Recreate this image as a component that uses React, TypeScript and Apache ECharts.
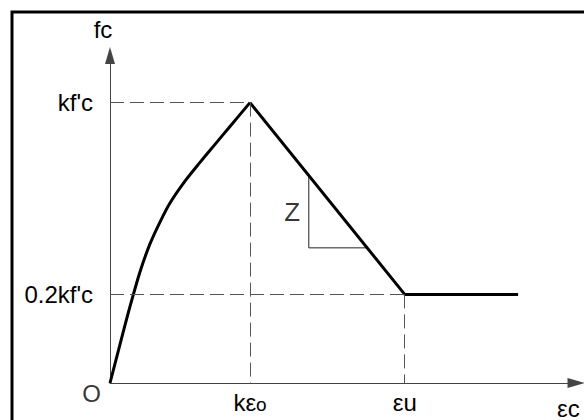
import React, { useEffect, useRef } from "react";
import * as echarts from "echarts";

// Rising branch of the idealised concrete stress–strain curve
// (strain in units where kεo = 2, stress normalised to kf'c = 1).
const risingStrain = [0, 0.143, 0.286, 0.429, 0.571, 0.714, 0.857, 1.071, 1.286, 1.5, 1.714, 2.0];
const risingStress = [0, 0.138, 0.273, 0.397, 0.496, 0.574, 0.642, 0.72, 0.787, 0.851, 0.915, 1.0];

// Linear softening branch and residual plateau.
const fallingStrain = [2.0, 4.21, 5.83];
const fallingStress = [1.0, 0.316, 0.316];

// Slope triangle marked "Z" on the softening branch.
const slopeLegStrain = 2.84;
const slopeLegStress = 0.482;

// Axis ticks and their symbolic labels.
const xTickValues = [2.0, 4.21];
const xTickLabels = ["{m|kε}{s|o}", "εu"];
const yTickValues = [0.316, 1.0];
const yTickLabels = ["0.2kf'c", "kf'c"];

const xMax = 6.657;
const yMax = 1.168;

const FONT = "'Liberation Sans', Arial, Helvetica, sans-serif";

export default function App() {
  const ref = useRef<HTMLDivElement>(null);

  useEffect(() => {
    document.body.style.margin = "0";
    if (!ref.current) return;
    const chart = echarts.init(ref.current, undefined, { renderer: "svg" });

    const peakX = fallingStrain[0];
    const peakY = fallingStress[0];
    const ultX = fallingStrain[1];
    const resY = fallingStress[1];
    const slope = (resY - peakY) / (ultX - peakX);
    const legTopY = peakY + slope * (slopeLegStrain - peakX);
    const legRightX = peakX + (slopeLegStress - peakY) / slope;

    const dash = { type: [14, 6] as number[], color: "#555", width: 1 };
    const text = { color: "#000", fontFamily: FONT, fontSize: 24 };

    chart.setOption({
      animation: false,
      backgroundColor: "#fff",
      textStyle: { fontFamily: FONT },
      graphic: [
        {
          type: "rect",
          shape: { x: 12, y: 12, width: 700, height: 600 },
          style: { fill: "none", stroke: "#000", lineWidth: 3 },
          silent: true,
        },
      ],
      grid: { left: 110, right: 8, top: 55.5, bottom: 35 },
      xAxis: {
        type: "value",
        min: 0,
        max: xMax,
        axisLine: {
          show: true,
          symbol: ["none", "triangle"],
          symbolSize: [10, 17],
          lineStyle: { color: "#444", width: 1 },
        },
        axisTick: { show: false },
        splitLine: { show: false },
        axisLabel: {
          customValues: xTickValues,
          margin: 7,
          ...text,
          formatter: (v: number) => {
            const i = xTickValues.findIndex((t) => Math.abs(t - v) < 1e-6);
            return i >= 0 ? xTickLabels[i] : "";
          },
          rich: {
            m: { ...text },
            s: { ...text, fontSize: 19, padding: [5, 0, 0, 0] },
          },
        },
        name: "εc",
        nameLocation: "end",
        nameGap: -19,
        nameTextStyle: {
          ...text,
          align: "left",
          verticalAlign: "top",
          padding: [13, 0, 0, 0],
        },
      },
      yAxis: {
        type: "value",
        min: 0,
        max: yMax,
        axisLine: {
          show: true,
          symbol: ["none", "triangle"],
          symbolSize: [10, 17],
          lineStyle: { color: "#444", width: 1 },
        },
        axisTick: { show: false },
        splitLine: { show: false },
        axisLabel: {
          customValues: yTickValues,
          margin: 17,
          ...text,
          formatter: (v: number) => {
            const i = yTickValues.findIndex((t) => Math.abs(t - v) < 1e-6);
            return i >= 0 ? yTickLabels[i] : "";
          },
        },
        name: "fc",
        nameLocation: "end",
        nameGap: 14,
        nameTextStyle: { ...text, align: "center", padding: [0, 14, 0, 0] },
      },
      series: [
        {
          type: "line",
          data: risingStrain.map((x, i) => [x, risingStress[i]]),
          smooth: 0.3,
          showSymbol: false,
          lineStyle: { color: "#000", width: 3 },
          silent: true,
          z: 4,
        },
        {
          type: "line",
          data: fallingStrain.map((x, i) => [x, fallingStress[i]]),
          showSymbol: false,
          lineStyle: { color: "#000", width: 3 },
          silent: true,
          z: 4,
          markLine: {
            silent: true,
            symbol: ["none", "none"],
            label: { show: false },
            lineStyle: dash,
            data: [
              [{ coord: [0, peakY] }, { coord: [peakX, peakY] }],
              [{ coord: [peakX, peakY] }, { coord: [peakX, 0] }],
              [{ coord: [0, resY] }, { coord: [ultX, resY] }],
              [{ coord: [ultX, resY] }, { coord: [ultX, 0] }],
            ],
          },
        },
        {
          type: "line",
          data: [
            [slopeLegStrain, legTopY],
            [slopeLegStrain, slopeLegStress],
            [legRightX, slopeLegStress],
          ],
          showSymbol: false,
          lineStyle: { color: "#222", width: 1 },
          silent: true,
          z: 3,
        },
        {
          type: "scatter",
          symbolSize: 0,
          silent: true,
          data: [
            { value: [slopeLegStrain, (legTopY + slopeLegStress) / 2], name: "Z" },
            { value: [0, 0], name: "O" },
          ],
          label: {
            show: true,
            formatter: (p: any) => p.name,
            ...text,
            align: "center",
            verticalAlign: "middle",
            position: [0, 0],
          },
          labelLayout: (p: any) =>
            p.dataIndex === 0
              ? { dx: -16.5, dy: 0, fontSize: 26 }
              : { dx: -18.5, dy: 10.5 },
        },
      ],
    });

    return () => chart.dispose();
  }, []);

  return <div ref={ref} style={{ width: 584, height: 420 }} />;
}
